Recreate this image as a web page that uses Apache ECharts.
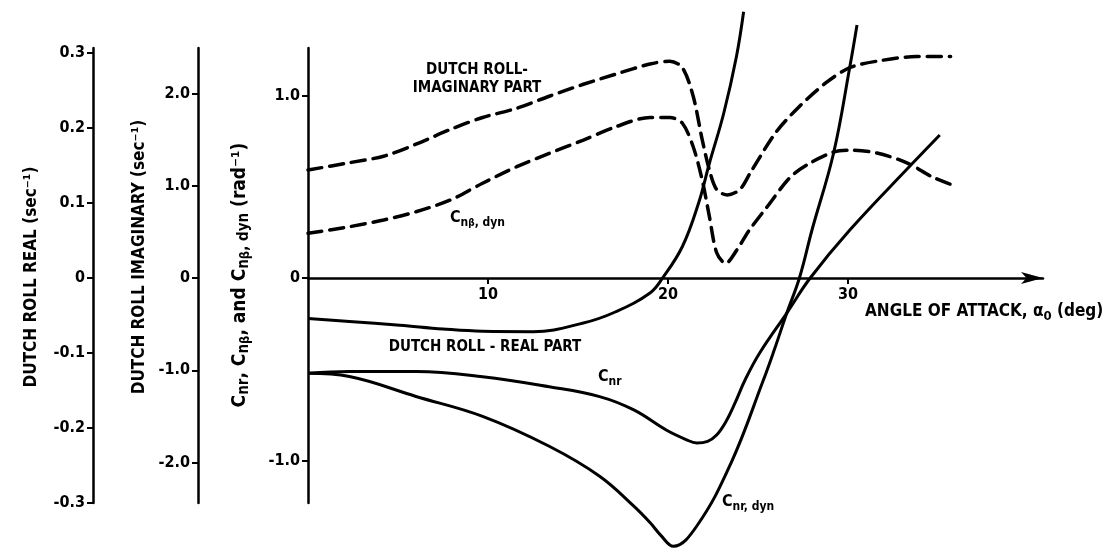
<!DOCTYPE html>
<html><head><meta charset="utf-8">
<script src="https://cdn.jsdelivr.net/npm/echarts@6/dist/echarts.min.js"></script>
<style>html,body{margin:0;padding:0;background:#fff}#c{width:1110px;height:552px}</style>
</head><body><div id="c"></div>
<script>
const FONT = "'Liberation Sans Narrow','DejaVu Sans Condensed','Liberation Sans',sans-serif";

// ---- data (x = angle of attack, deg) ----
const imagAlpha  = [0, 2.3, 4.2, 6.0, 7.9, 9.7, 11.6, 13.4, 15.3, 17.1, 19.0, 20.1, 20.8, 21.4, 21.9, 22.3, 22.7, 23.3, 24.0, 24.6, 26.0, 27.3, 28.8, 30.1, 31.6, 33.8, 35.7];
const imagValues = [1.17, 1.25, 1.32, 1.45, 1.61, 1.74, 1.84, 1.97, 2.10, 2.21, 2.32, 2.35, 2.28, 1.97, 1.50, 1.17, 0.96, 0.90, 0.96, 1.15, 1.58, 1.86, 2.12, 2.28, 2.35, 2.40, 2.40];

const cnbAlpha  = [0, 2.3, 4.2, 6.0, 7.9, 9.7, 11.6, 13.4, 15.3, 17.1, 19.0, 20.1, 20.8, 21.4, 21.9, 22.3, 22.7, 23.2, 23.8, 24.5, 25.5, 26.8, 27.9, 29.2, 30.1, 31.6, 33.3, 34.7, 35.8];
const cnbValues = [0.245, 0.281, 0.318, 0.363, 0.427, 0.519, 0.610, 0.683, 0.756, 0.829, 0.880, 0.880, 0.848, 0.719, 0.537, 0.336, 0.14, 0.08, 0.15, 0.26, 0.389, 0.553, 0.63, 0.69, 0.70, 0.685, 0.63, 0.553, 0.51];

const realAlpha  = [0, 2.3, 5.1, 7.5, 9.7, 12.5, 15.3, 17.1, 19.0, 19.7, 20.8, 21.7, 22.3, 23.1, 23.8, 24.2];
const realValues = [-0.054, -0.058, -0.063, -0.068, -0.071, -0.0715, -0.060, -0.045, -0.020, 0, 0.042, 0.100, 0.153, 0.22, 0.295, 0.355];

const cnrAlpha  = [0, 2.3, 6.0, 9.7, 13.4, 16.2, 18.1, 19.9, 21.0, 21.6, 22.2, 22.7, 23.2, 23.7, 24.3, 25.1, 26.6, 27.9, 30.1, 33.6, 35.1];
const cnrValues = [-0.522, -0.513, -0.513, -0.541, -0.596, -0.650, -0.723, -0.833, -0.885, -0.904, -0.895, -0.860, -0.79, -0.69, -0.555, -0.41, -0.192, 0, 0.263, 0.63, 0.784];

const cnrDynAlpha  = [0, 2.3, 6.0, 9.7, 13.4, 16.2, 18.1, 19.0, 19.6, 20.3, 21.6, 23.5, 25.3, 25.9, 26.6, 27.3, 28.0, 29.2, 30.1, 30.5];
const cnrDynValues = [-0.522, -0.540, -0.649, -0.758, -0.922, -1.086, -1.25, -1.34, -1.41, -1.47, -1.359, -1.014, -0.559, -0.395, -0.192, 0, 0.263, 0.685, 1.156, 1.386];

// ---- ticks ----
const xTicks = [10, 20, 30];
const xTickLabels = ['10', '20', '30'];
const mainTicks = [-1, 0, 1];
const mainTickLabels = ['-1.0', '0', '1.0'];
const realTicks = [-0.3, -0.2, -0.1, 0, 0.1, 0.2, 0.3];
const realTickLabels = ['-0.3', '-0.2', '-0.1', '0', '0.1', '0.2', '0.3'];
const imagTicks = [-2, -1, 0, 1, 2];
const imagTickLabels = ['-2.0', '-1.0', '0', '1.0', '2.0'];

function pairs(a, v) { return a.map((x, i) => [x, v[i]]); }
function fmt(ticks, labels) {
  return v => { const i = ticks.findIndex(t => Math.abs(t - v) < 1e-6); return i >= 0 ? labels[i] : ''; };
}
function yAx(min, max, ticks, labels, offset) {
  return {
    type: 'value', position: 'left', offset: offset, min: min, max: max,
    axisLine: { show: true, onZero: false, lineStyle: { color: '#000', width: 2.5 } },
    axisTick: { show: true, customValues: ticks, length: 6, lineStyle: { color: '#000', width: 2 } },
    axisLabel: { customValues: ticks, formatter: fmt(ticks, labels), color: '#000', fontFamily: FONT, fontWeight: 'bold', fontSize: 16, margin: 8 },
    splitLine: { show: false }
  };
}

const chart = echarts.init(document.getElementById('c'));
const black = '#000';
const dashed = { color: black, width: 3.5, type: [14, 8], cap: 'round' };
const solid = { color: black, width: 3 };

function rich(base) {
  return {
    t: { fontFamily: FONT, fontWeight: 'bold', fontSize: base, lineHeight: base + 5, verticalAlign: 'middle', color: black },
    s: { fontFamily: FONT, fontWeight: 'bold', fontSize: base - 4, lineHeight: base - 4, verticalAlign: 'bottom', color: black },
    ss: { fontFamily: FONT, fontWeight: 'bold', fontSize: base - 6, lineHeight: base - 10, verticalAlign: 'bottom', color: black }
  };
}

function txt(x, y, text, size, opts) {
  return Object.assign({
    type: 'text', x: x, y: y, silent: true,
    style: Object.assign({ text: text, fill: black, font: 'bold ' + size + 'px ' + FONT, align: 'left', verticalAlign: 'middle', rich: rich(size) }, (opts && opts.style) || {})
  }, (opts && opts.el) || {});
}

chart.setOption({
  animation: false,
  backgroundColor: '#fff',
  grid: { left: 308, right: 67, top: 48, height: 455 },
  xAxis: {
    type: 'value', min: 0, max: 40.833, position: 'bottom', offset: -225,
    axisLine: { show: true, onZero: false, symbol: ['none', 'arrow'], symbolSize: [9, 22], lineStyle: { color: black, width: 2.5 } },
    axisTick: { show: true, customValues: xTicks, length: 6, lineStyle: { color: black, width: 2 } },
    axisLabel: { customValues: xTicks, formatter: fmt(xTicks, xTickLabels), color: black, fontFamily: FONT, fontWeight: 'bold', fontSize: 16, margin: 9 },
    splitLine: { show: false }
  },
  yAxis: [
    yAx(-225 / 182.5, 230 / 182.5, mainTicks, mainTickLabels, 0),
    yAx(-0.3, 230 / 750, realTicks, realTickLabels, 215),
    yAx(-225 / 92.25, 230 / 92.25, imagTicks, imagTickLabels, 110)
  ],
  series: [
    { name: 'Dutch roll imaginary part', type: 'line', yAxisIndex: 2, data: pairs(imagAlpha, imagValues), showSymbol: false, smooth: 0.3, clip: false, lineStyle: dashed },
    { name: 'Cnβ,dyn', type: 'line', yAxisIndex: 0, data: pairs(cnbAlpha, cnbValues), showSymbol: false, smooth: 0.3, clip: false, lineStyle: dashed },
    { name: 'Dutch roll real part', type: 'line', yAxisIndex: 1, data: pairs(realAlpha, realValues), showSymbol: false, smooth: 0.4, clip: false, lineStyle: solid },
    { name: 'Cnr', type: 'line', yAxisIndex: 0, data: pairs(cnrAlpha, cnrValues), showSymbol: false, smooth: 0.4, clip: false, lineStyle: solid },
    { name: 'Cnr,dyn', type: 'line', yAxisIndex: 0, data: pairs(cnrDynAlpha, cnrDynValues), showSymbol: false, smooth: 0.4, clip: false, lineStyle: solid }
  ],
  graphic: [
    txt(477, 79, 'DUTCH ROLL-\nIMAGINARY PART', 15, { style: { align: 'center', lineHeight: 18 } }),
    txt(450, 218, '{t|C}{s|n}{ss|β}{s|, dyn}', 16),
    txt(485, 347, 'DUTCH ROLL - REAL PART', 15, { style: { align: 'center' } }),
    txt(598, 377, '{t|C}{s|nr}', 16),
    txt(722, 502, '{t|C}{s|nr, dyn}', 16),
    txt(865, 312, 'ANGLE OF ATTACK, {t|α}{s|0} (deg)', 17),
    txt(32, 277, 'DUTCH ROLL REAL (sec⁻¹)', 17, { style: { align: 'center' }, el: { rotation: Math.PI / 2 } }),
    txt(140, 257, 'DUTCH ROLL IMAGINARY (sec⁻¹)', 17, { style: { align: 'center' }, el: { rotation: Math.PI / 2 } }),
    txt(240, 275, '{t|C}{s|nr}{t|, C}{s|n}{ss|β}{t|, and C}{s|n}{ss|β}{s|, dyn}{t| (rad⁻¹)}', 19, { style: { align: 'center' }, el: { rotation: Math.PI / 2 } })
  ]
});
</script></body></html>
